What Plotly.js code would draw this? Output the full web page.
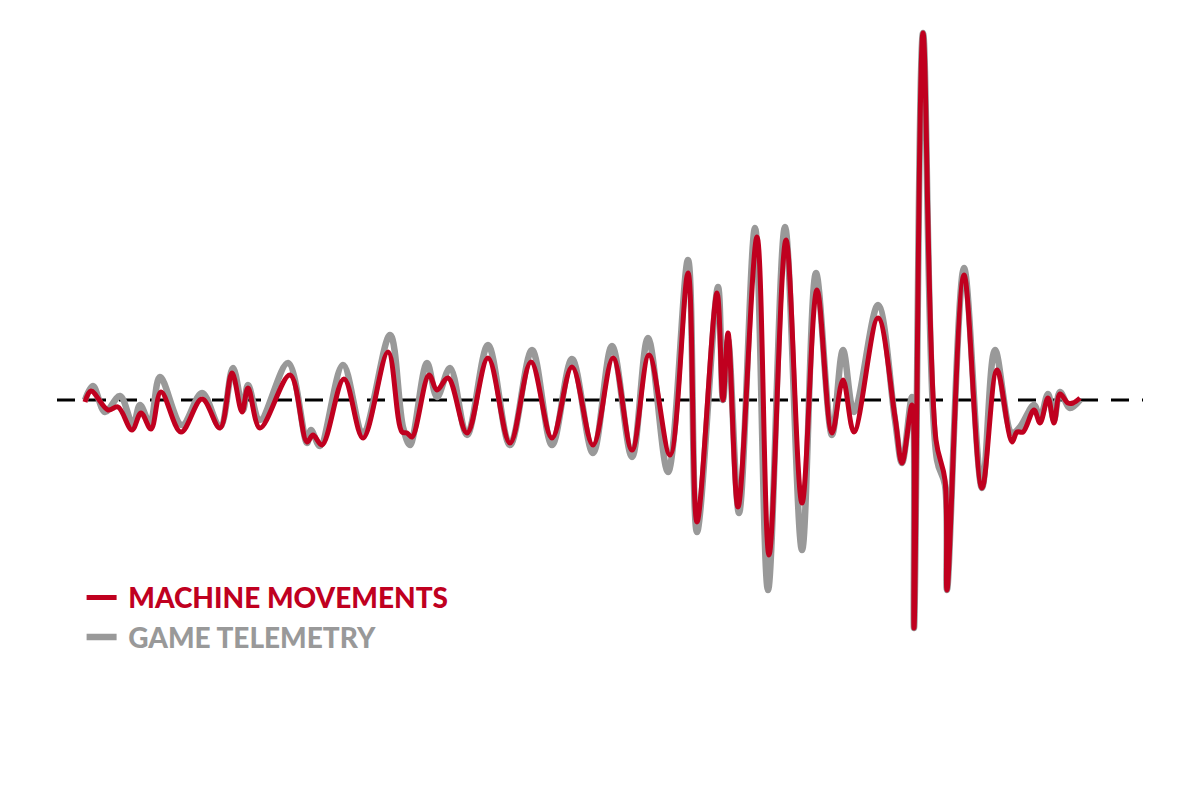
<!DOCTYPE html>
<html>
<head>
<meta charset="utf-8">
<script src="https://cdn.plot.ly/plotly-3.0.1.min.js"></script>
<style>
  html, body { margin: 0; padding: 0; background: #fff; }
  #chart { width: 1200px; height: 800px; }
</style>
</head>
<body>
<div id="chart"></div>
<script>
// Machine movements vs game telemetry.
// t = sample position, amplitude in arbitrary units (0 = rest).
const machineT = [85, 91, 108, 118, 132, 141, 151, 161, 181, 202, 220, 232, 242, 248, 260,
  290, 307, 313, 322, 344, 363, 388, 402, 407, 412, 429, 437, 448, 467, 488,
  510, 531, 552, 572, 593, 613, 632, 649, 670, 688, 697, 717, 723, 728, 738,
  757, 769, 786, 802, 817, 832, 843, 854, 878, 895, 902, 912, 914, 923, 936,
  945, 947, 964, 982, 997, 1012, 1017, 1023, 1034, 1040, 1048, 1054, 1060, 1068, 1073, 1080];
const machineY = [-2, 9, -10, -7, -30, -13, -29, 8, -32, 1, -28, 27, -12, 12, -28,
  25, -42, -35, -45, 21, -38, 48, -32, -33, -37, 25, 10, 22, -33, 42,
  -43, 38, -38, 33, -45, 42, -50, 45, -55, 127, -122, 107, 0, 67, -107,
  163, -155, 160, -103, 110, -33, 20, -32, 82, -17, -63, -5, -228, 367, -40,
  -80, -190, 125, -88, 30, -42, -32, -32, -10, -23, 2, -23, 6, -3, -3, 2];

const telemetryT = [85, 93, 105, 120, 133, 140, 150, 160, 182, 202, 220, 233, 243, 248, 260,
  288, 307, 311, 320, 343, 363, 390, 403, 410, 427, 437, 450, 467, 488,
  510, 532, 552, 572, 593, 612, 632, 648, 668, 688, 697, 718, 723, 728, 739,
  755, 768, 785, 802, 816, 832, 843, 854, 878, 895, 902, 912, 914, 923, 937,
  945, 947, 964, 982, 995, 1012, 1020, 1034, 1040, 1048, 1054, 1060, 1070, 1080];
const telemetryY = [0, 14, -12, 4, -25, -5, -23, 23, -25, 7, -27, 32, -10, 15, -20,
  37, -43, -30, -46, 35, -32, 65, -27, -45, 37, 3, 32, -35, 55,
  -45, 50, -45, 41, -53, 54, -57, 62, -72, 140, -132, 113, 0, 60, -113,
  172, -190, 173, -150, 127, -35, 50, -12, 95, -20, -63, 3, -228, 367, -60,
  -85, -190, 132, -88, 50, -33, -27, -5, -18, 6, -20, 8, -8, 0];

const RED = '#c0001f';
const GREY = '#999999';

const traces = [
  {
    x: telemetryT, y: telemetryY, mode: 'lines', name: '\u00a0GAME TELEMETRY',
    line: { color: GREY, width: 6.5, shape: 'spline', smoothing: 1 },
    hoverinfo: 'skip',
  },
  {
    x: machineT, y: machineY, mode: 'lines', name: '\u00a0MACHINE MOVEMENTS',
    line: { color: RED, width: 5, shape: 'spline', smoothing: 1 },
    hoverinfo: 'skip',
  },
];

const layout = {
  width: 1200, height: 800,
  margin: { l: 0, r: 0, t: 0, b: 0 },
  paper_bgcolor: '#fff', plot_bgcolor: '#fff',
  xaxis: { range: [0, 1200], visible: false, fixedrange: true },
  yaxis: { range: [-400, 400], visible: false, fixedrange: true },
  shapes: [{
    type: 'line', xref: 'x', yref: 'y', x0: 57, x1: 1143, y0: 0, y1: 0,
    layer: 'below', line: { color: '#000', width: 3, dash: '18px,13px' },
  }],
  showlegend: true,
  legend: {
    x: 0.068, xanchor: 'left', y: 0.284, yanchor: 'top',
    traceorder: 'reversed', itemwidth: 30, tracegroupgap: 0,
    bgcolor: 'rgba(0,0,0,0)',
    font: { family: 'Lato, "Open Sans", sans-serif', size: 28, weight: 900, color: '#999' },
  },
};

Plotly.newPlot('chart', traces, layout, { staticPlot: true, displayModeBar: false }).then(() => {
  // colour each legend label like its line
  document.querySelectorAll('.legendtext').forEach((el) => {
    el.style.fill = el.textContent.includes('MACHINE') ? RED : GREY;
  });
});
</script>
</body>
</html>
